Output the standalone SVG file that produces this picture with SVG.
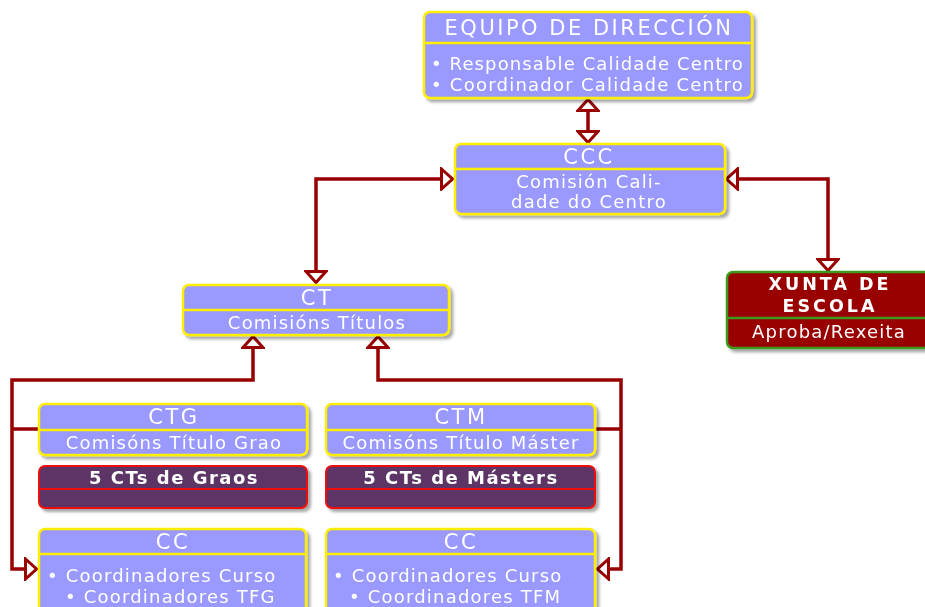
<svg xmlns="http://www.w3.org/2000/svg" width="925" height="607" viewBox="0 0 925 607">
<defs>
<filter id="sh" x="-10%" y="-10%" width="130%" height="140%">
<feDropShadow dx="3" dy="3" stdDeviation="1.5" flood-color="#000" flood-opacity="0.35"/>
</filter>
<marker id="ah" viewBox="0 0 14 24" refX="13" refY="12" markerWidth="14" markerHeight="24" markerUnits="userSpaceOnUse" orient="auto-start-reverse">
<path d="M1.5,2 L12.5,12 L1.5,22 Z" fill="#fff" stroke="#990000" stroke-width="3" stroke-linejoin="miter"/>
</marker>
</defs>
<style>
.blue{fill:#9999ff;stroke:#ffee00;stroke-width:2.5}
.div{stroke:#ffee00;stroke-width:2.5}
.purp{fill:#5c3566;stroke:#ee1111;stroke-width:2}
.divr{stroke:#ee1111;stroke-width:2}
.red{fill:#990000;stroke:#3c9a1e;stroke-width:2.5}
.divg{stroke:#3c9a1e;stroke-width:2.5}
text{font-family:"DejaVu Sans","Liberation Sans",sans-serif;fill:#fff;font-size:18px;letter-spacing:1.2px}
.t{text-anchor:middle}
.h{font-size:21px;letter-spacing:2.5px}
.b{font-weight:bold;letter-spacing:1.5px}
.x{font-size:17.5px;letter-spacing:3px}
.c{stroke:#990000;stroke-width:3.5;fill:none}
</style>
<rect width="925" height="607" fill="#fff"/>
<g id="connectors">
<path class="c" d="M588,99 V143" marker-start="url(#ah)" marker-end="url(#ah)"/>
<path class="c" d="M316,283 V179 H453" marker-start="url(#ah)" marker-end="url(#ah)"/>
<path class="c" d="M726,179 H828 V271" marker-start="url(#ah)" marker-end="url(#ah)"/>
<path class="c" d="M253,336 V380 H12 V569 H37" marker-start="url(#ah)" marker-end="url(#ah)"/>
<path class="c" d="M12,429 H38"/>
<path class="c" d="M378,336 V380 H621 V569 H597" marker-start="url(#ah)" marker-end="url(#ah)"/>
<path class="c" d="M595,429 H621"/>
</g>
<g id="equipo" filter="url(#sh)">
<rect class="blue" x="424" y="12" width="328" height="86" rx="6"/>
<line class="div" x1="424" y1="43" x2="752" y2="43"/>
<text class="t h" x="589" y="35">EQUIPO DE DIRECCIÓN</text>
<text x="431" y="70" textLength="313" lengthAdjust="spacing">• Responsable Calidade Centro</text>
<text x="431" y="91" textLength="313" lengthAdjust="spacing">• Coordinador Calidade Centro</text>
</g>
<g id="ccc" filter="url(#sh)">
<rect class="blue" x="455" y="144" width="270" height="70" rx="6"/>
<line class="div" x1="455" y1="169" x2="725" y2="169"/>
<text class="t h" x="589" y="164">CCC</text>
<text class="t" x="589" y="188">Comisión Cali-</text>
<text class="t" x="589" y="208">dade do Centro</text>
</g>
<g id="ct" filter="url(#sh)">
<rect class="blue" x="183" y="285" width="266" height="50" rx="6"/>
<line class="div" x1="183" y1="310" x2="449" y2="310"/>
<text class="t h" x="317" y="305">CT</text>
<text class="t" x="317" y="329">Comisións Títulos</text>
</g>
<g id="xunta" filter="url(#sh)">
<rect class="red" x="727" y="272" width="210" height="76" rx="6"/>
<line class="divg" x1="727" y1="318" x2="925" y2="318"/>
<text class="t b x" x="830" y="290">XUNTA DE</text>
<text class="t b x" x="830" y="312">ESCOLA</text>
<text class="t" x="829" y="338">Aproba/Rexeita</text>
</g>
<g id="ctg" filter="url(#sh)">
<rect class="blue" x="39" y="404" width="268" height="51" rx="6"/>
<line class="div" x1="39" y1="430" x2="307" y2="430"/>
<text class="t h" x="174" y="424">CTG</text>
<text class="t" x="174" y="449">Comisóns Título Grao</text>
</g>
<g id="ctgraos" filter="url(#sh)">
<rect class="purp" x="39" y="466" width="268" height="42" rx="6"/>
<line class="divr" x1="39" y1="489" x2="307" y2="489"/>
<text class="t b" x="174" y="484">5 CTs de Graos</text>
</g>
<g id="ctm" filter="url(#sh)">
<rect class="blue" x="326" y="404" width="269" height="51" rx="6"/>
<line class="div" x1="326" y1="430" x2="595" y2="430"/>
<text class="t h" x="461" y="424">CTM</text>
<text class="t" x="461" y="449">Comisóns Título Máster</text>
</g>
<g id="ctmasters" filter="url(#sh)">
<rect class="purp" x="326" y="466" width="269" height="42" rx="6"/>
<line class="divr" x1="326" y1="489" x2="595" y2="489"/>
<text class="t b" x="461" y="484">5 CTs de Másters</text>
</g>
<g id="ccg" filter="url(#sh)">
<rect class="blue" x="39" y="529" width="267" height="90" rx="6"/>
<line class="div" x1="39" y1="554" x2="306" y2="554"/>
<text class="t h" x="173" y="549">CC</text>
<text x="47" y="582">• Coordinadores Curso</text>
<text x="65" y="603">• Coordinadores TFG</text>
</g>
<g id="ccm" filter="url(#sh)">
<rect class="blue" x="326" y="529" width="269" height="90" rx="6"/>
<line class="div" x1="326" y1="554" x2="595" y2="554"/>
<text class="t h" x="461" y="549">CC</text>
<text x="333" y="582">• Coordinadores Curso</text>
<text x="349" y="603">• Coordinadores TFM</text>
</g>
</svg>
